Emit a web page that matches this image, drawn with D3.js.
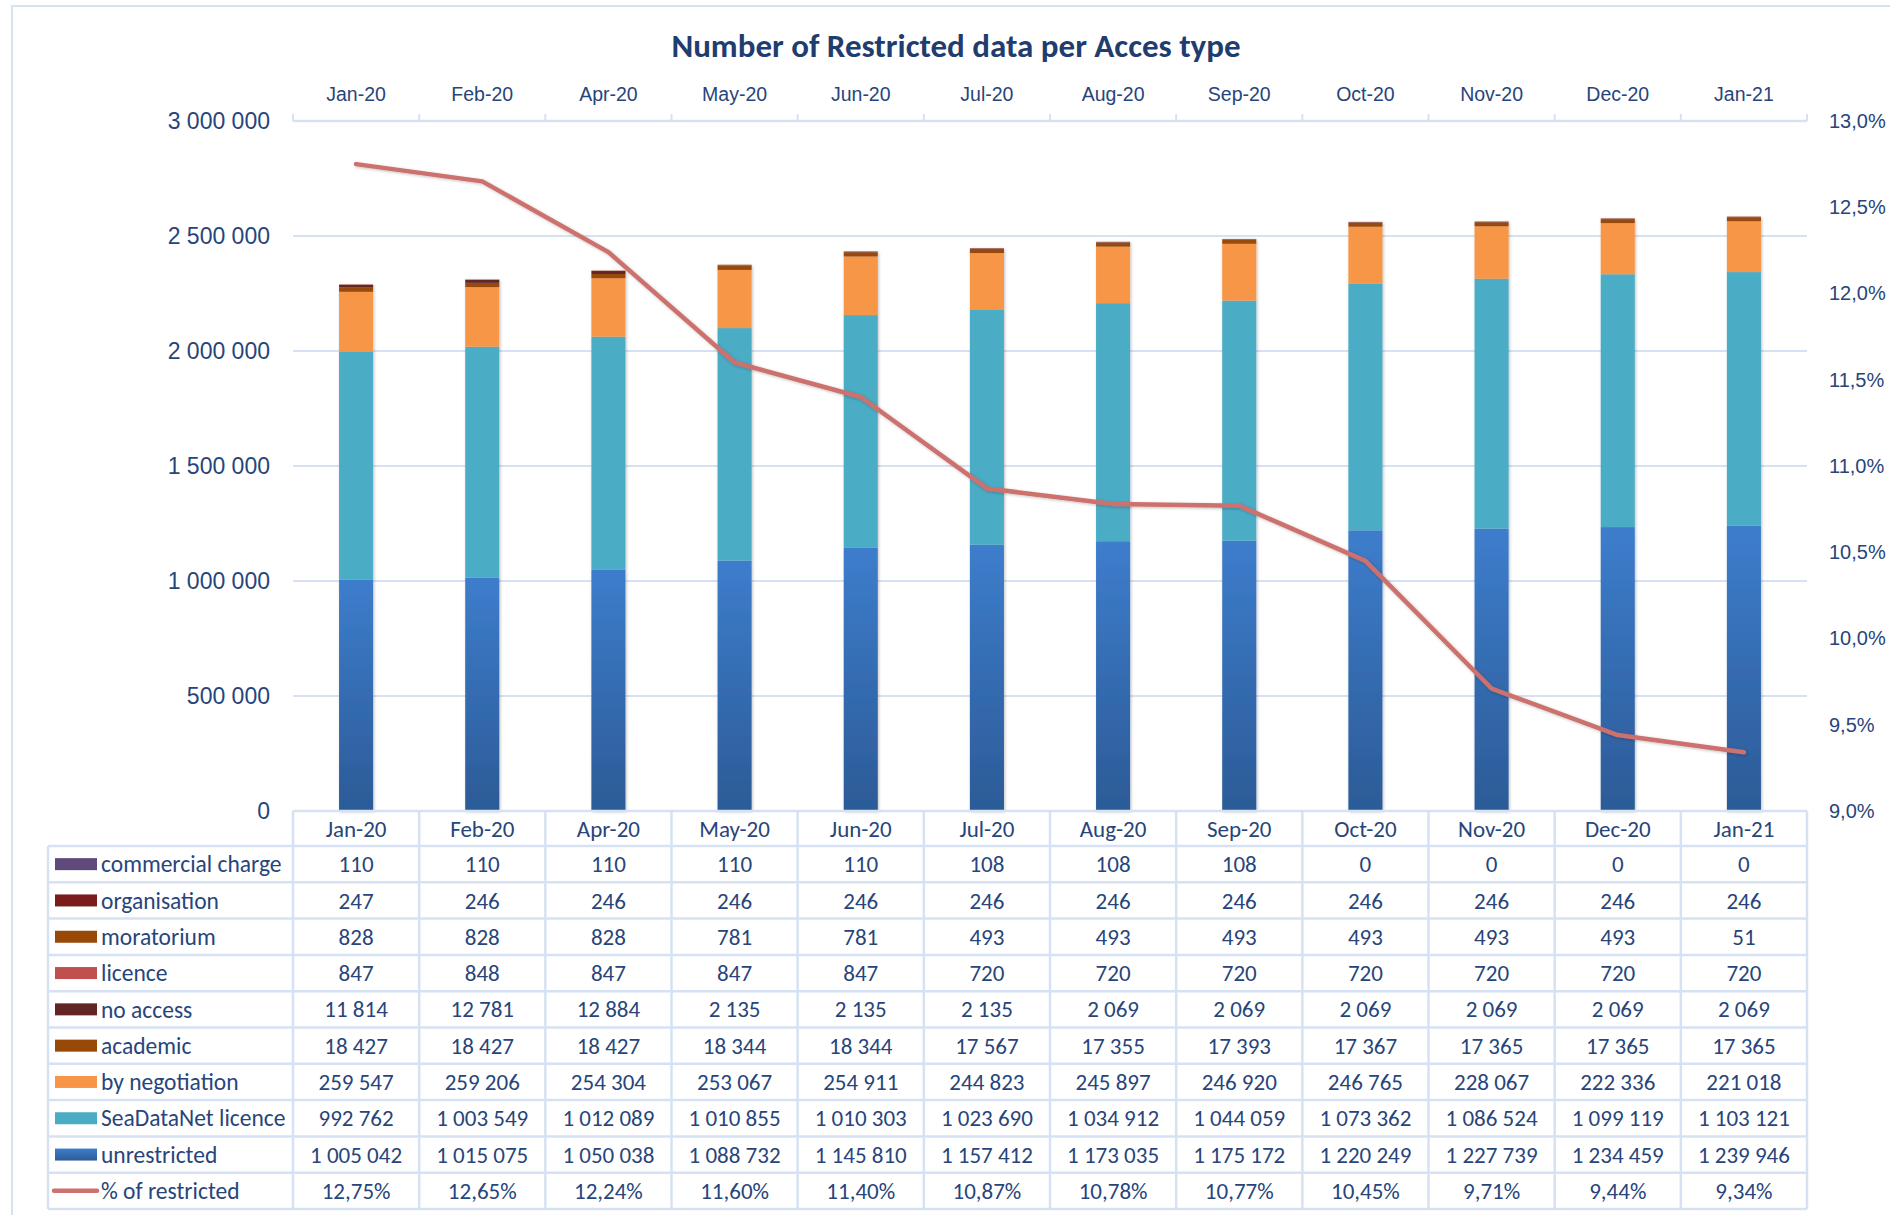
<!DOCTYPE html>
<html>
<head>
<meta charset="utf-8">
<script src="https://cdn.jsdelivr.net/npm/d3@7"></script>
<style>
  body { margin: 0; background: #fff; }
  svg { display: block; font-family: Carlito, Calibri, Lato, sans-serif; }
</style>
</head>
<body>
<svg id="chart" width="1890" height="1215"></svg>
<script>
// Data
const months = ['Jan-20', 'Feb-20', 'Apr-20', 'May-20', 'Jun-20', 'Jul-20', 'Aug-20', 'Sep-20', 'Oct-20', 'Nov-20', 'Dec-20', 'Jan-21']
const commercialCharge = [110, 110, 110, 110, 110, 108, 108, 108, 0, 0, 0, 0]
const organisation = [247, 246, 246, 246, 246, 246, 246, 246, 246, 246, 246, 246]
const moratorium = [828, 828, 828, 781, 781, 493, 493, 493, 493, 493, 493, 51]
const licence = [847, 848, 847, 847, 847, 720, 720, 720, 720, 720, 720, 720]
const noAccess = [11814, 12781, 12884, 2135, 2135, 2135, 2069, 2069, 2069, 2069, 2069, 2069]
const academic = [18427, 18427, 18427, 18344, 18344, 17567, 17355, 17393, 17367, 17365, 17365, 17365]
const byNegotiation = [259547, 259206, 254304, 253067, 254911, 244823, 245897, 246920, 246765, 228067, 222336, 221018]
const seaDataNetLicence = [992762, 1003549, 1012089, 1010855, 1010303, 1023690, 1034912, 1044059, 1073362, 1086524, 1099119, 1103121]
const unrestricted = [1005042, 1015075, 1050038, 1088732, 1145810, 1157412, 1173035, 1175172, 1220249, 1227739, 1234459, 1239946]
const pctRestricted = [0.1275, 0.1265, 0.1224, 0.1160, 0.1140, 0.1087, 0.1078, 0.1077, 0.1045, 0.0971, 0.0944, 0.0934]
const leftTicks = [0, 500000, 1000000, 1500000, 2000000, 2500000, 3000000]
const rightTicks = [0.09, 0.095, 0.10, 0.105, 0.11, 0.115, 0.12, 0.125, 0.13]

// stack order, bottom to top
const series = [
    { key: 'unrestricted', label: 'unrestricted', values: unrestricted, color: 'url(#gradUnrestricted)' },
    { key: 'seaDataNet', label: 'SeaDataNet licence', values: seaDataNetLicence, color: '#4BACC6' },
    { key: 'negotiation', label: 'by negotiation', values: byNegotiation, color: '#F79646' },
    { key: 'academic', label: 'academic', values: academic, color: '#984807' },
    { key: 'noAccess', label: 'no access', values: noAccess, color: '#632523' },
    { key: 'licence', label: 'licence', values: licence, color: '#C0504D' },
    { key: 'moratorium', label: 'moratorium', values: moratorium, color: '#984807' },
    { key: 'organisation', label: 'organisation', values: organisation, color: '#7A1C1C' },
    { key: 'commercial', label: 'commercial charge', values: commercialCharge, color: '#604A7B' }
]

const textColor = '#27457A'
const gridColor = '#D6E2F3'
const lineColor = '#CC716D'

const locale = d3.formatLocale({ decimal: ',', thousands: ' ', grouping: [3], currency: ['', ''] })
const fmtInt = locale.format(',d')
const fmtPct2 = locale.format('.2%')
const fmtPct1 = locale.format('.1%')

const svg = d3.select('#chart')

// Presentation
const margin = { top: 121, right: 83, bottom: 404, left: 293 }
const chartRight = 1890 - margin.right
const chartBottom = 1215 - margin.bottom
const tableLeft = 48
const headerHeight = 35
const rowHeight = 36.3

// Defs
const defs = svg.append('defs')
const grad = defs.append('linearGradient')
    .attr('id', 'gradUnrestricted')
    .attr('x1', 0).attr('y1', 0).attr('x2', 0).attr('y2', 1)
grad.append('stop').attr('offset', '0%').attr('stop-color', '#3D7DCC')
grad.append('stop').attr('offset', '100%').attr('stop-color', '#2C5B97')
defs.append('filter').attr('id', 'shadow')
    .attr('x', '-20%').attr('y', '-5%').attr('width', '140%').attr('height', '110%')
    .append('feDropShadow')
    .attr('dx', 1).attr('dy', 1).attr('stdDeviation', 1.5)
    .attr('flood-color', '#000').attr('flood-opacity', 0.25)

// outer frame
svg.append('rect')
    .attr('x', 12).attr('y', 6).attr('width', 1900).attr('height', 1230)
    .attr('fill', '#fff').attr('stroke', gridColor).attr('stroke-width', 2)

// Scales
const xCol = d3.scaleBand().domain(months).range([margin.left, chartRight])
const x = d3.scaleBand().domain(months).range([margin.left, chartRight])
    .paddingInner(0.73).paddingOuter(0.365)
const yLeft = d3.scaleLinear().domain([0, 3000000]).range([chartBottom, margin.top])
const yRight = d3.scaleLinear().domain([0.09, 0.13]).range([chartBottom, margin.top])

// Title
svg.append('text')
    .attr('x', 956).attr('y', 57)
    .attr('text-anchor', 'middle')
    .style('font-size', '33px').style('font-weight', 'bold')
    .style('fill', '#1F3D6E')
    .text('Number of Restricted data per Acces type')

// Grid
svg.append('g').attr('class', 'grid')
    .selectAll('line')
    .data(leftTicks.slice(1, -1))
    .join('line')
    .attr('x1', margin.left).attr('x2', chartRight)
    .attr('y1', d => yLeft(d)).attr('y2', d => yLeft(d))
    .attr('stroke', gridColor).attr('stroke-width', 2)

// Left axis
const leftAxis = svg.append('g')
    .attr('transform', `translate(${margin.left - 20},0)`)
    .call(d3.axisLeft(yLeft).tickValues(leftTicks).tickSize(0).tickFormat(fmtInt))
leftAxis.select('.domain').remove()
leftAxis.selectAll('text')
    .style('font-size', '23px').style('fill', textColor).attr('font-family', null)

// Right axis
const rightAxis = svg.append('g')
    .attr('transform', `translate(${chartRight + 19},0)`)
    .call(d3.axisRight(yRight).tickValues(rightTicks).tickSize(0).tickFormat(fmtPct1))
rightAxis.select('.domain').remove()
rightAxis.selectAll('text')
    .style('font-size', '20px').style('fill', textColor).attr('font-family', null)

// Top axis
const topAxis = svg.append('g')
    .attr('transform', `translate(0,${margin.top})`)
    .call(d3.axisTop(xCol).tickSize(0).tickPadding(20))
topAxis.select('.domain').remove()
topAxis.selectAll('text')
    .style('font-size', '19.5px').style('fill', textColor).attr('font-family', null)
svg.append('line')
    .attr('x1', margin.left).attr('x2', chartRight)
    .attr('y1', margin.top).attr('y2', margin.top)
    .attr('stroke', gridColor).attr('stroke-width', 2.5)
svg.append('g').selectAll('line')
    .data(months.map(m => xCol(m)).concat([chartRight]))
    .join('line')
    .attr('x1', d => d).attr('x2', d => d)
    .attr('y1', margin.top - 7).attr('y2', margin.top)
    .attr('stroke', gridColor).attr('stroke-width', 2)

// Bars
const table = months.map((m, i) => {
    const row = { month: m }
    series.forEach(s => { row[s.key] = s.values[i] })
    return row
})
const stacked = d3.stack().keys(series.map(s => s.key))(table)

svg.append('g').attr('class', 'bars')
    .attr('filter', 'url(#shadow)')
    .selectAll('g')
    .data(stacked)
    .join('g')
    .attr('fill', (d, i) => series[i].color)
    .selectAll('rect')
    .data(d => d)
    .join('rect')
    .attr('x', d => x(d.data.month))
    .attr('width', x.bandwidth())
    .attr('y', d => yLeft(d[1]))
    .attr('height', d => yLeft(d[0]) - yLeft(d[1]))

// Line
const line = d3.line()
    .x((d, i) => xCol(months[i]) + xCol.bandwidth() / 2)
    .y(d => yRight(d))
svg.append('path')
    .datum(pctRestricted)
    .attr('d', line)
    .attr('fill', 'none')
    .attr('stroke', lineColor)
    .attr('stroke-width', 4.5)
    .attr('stroke-linejoin', 'round')
    .attr('stroke-linecap', 'round')
    .attr('filter', 'url(#shadow)')

// Data table
const rows = series.slice().reverse().map(s => ({ label: s.label, color: s.color, cells: s.values.map(fmtInt), type: 'rect' }))
rows.push({ label: '% of restricted', color: lineColor, cells: pctRestricted.map(fmtPct2), type: 'line' })

const tableTop = chartBottom
const bodyTop = tableTop + headerHeight
const tableBottom = bodyTop + rows.length * rowHeight
const tableG = svg.append('g').attr('class', 'data-table')

// horizontal rules
tableG.append('line')
    .attr('x1', margin.left).attr('x2', chartRight)
    .attr('y1', tableTop).attr('y2', tableTop)
    .attr('stroke', gridColor).attr('stroke-width', 2.5)
tableG.selectAll('line.hrule')
    .data(d3.range(rows.length + 1))
    .join('line')
    .attr('class', 'hrule')
    .attr('x1', tableLeft).attr('x2', chartRight)
    .attr('y1', i => bodyTop + i * rowHeight).attr('y2', i => bodyTop + i * rowHeight)
    .attr('stroke', gridColor).attr('stroke-width', 2.5)
// vertical rules
const colEdges = months.map(m => xCol(m)).concat([chartRight])
tableG.selectAll('line.vrule')
    .data(colEdges)
    .join('line')
    .attr('class', 'vrule')
    .attr('x1', d => d).attr('x2', d => d)
    .attr('y1', tableTop).attr('y2', tableBottom)
    .attr('stroke', gridColor).attr('stroke-width', 2.5)
tableG.append('line')
    .attr('x1', tableLeft).attr('x2', tableLeft)
    .attr('y1', bodyTop).attr('y2', tableBottom)
    .attr('stroke', gridColor).attr('stroke-width', 2.5)

// header
tableG.selectAll('text.head')
    .data(months)
    .join('text')
    .attr('class', 'head')
    .attr('x', d => xCol(d) + xCol.bandwidth() / 2)
    .attr('y', tableTop + headerHeight / 2)
    .attr('dy', '0.35em')
    .attr('text-anchor', 'middle')
    .style('font-size', '23px').style('fill', textColor)
    .text(d => d)

const rowG = tableG.selectAll('g.row')
    .data(rows)
    .join('g')
    .attr('class', 'row')
    .attr('transform', (d, i) => `translate(0,${bodyTop + i * rowHeight + rowHeight / 2})`)

rowG.filter(d => d.type === 'rect')
    .append('rect')
    .attr('x', 55).attr('y', -6).attr('width', 42).attr('height', 12)
    .attr('fill', d => d.color)
rowG.filter(d => d.type === 'line')
    .append('line')
    .attr('x1', 54).attr('x2', 97).attr('y1', 0).attr('y2', 0)
    .attr('stroke', d => d.color).attr('stroke-width', 4.5).attr('stroke-linecap', 'round')

rowG.append('text')
    .attr('x', 101).attr('dy', '0.35em')
    .style('font-size', '23.5px').style('fill', textColor)
    .text(d => d.label)

rowG.selectAll('text.cell')
    .data(d => d.cells)
    .join('text')
    .attr('class', 'cell')
    .attr('x', (d, i) => xCol(months[i]) + xCol.bandwidth() / 2)
    .attr('dy', '0.35em')
    .attr('text-anchor', 'middle')
    .style('font-size', '23px').style('fill', textColor)
    .text(d => d)
</script>
</body>
</html>
